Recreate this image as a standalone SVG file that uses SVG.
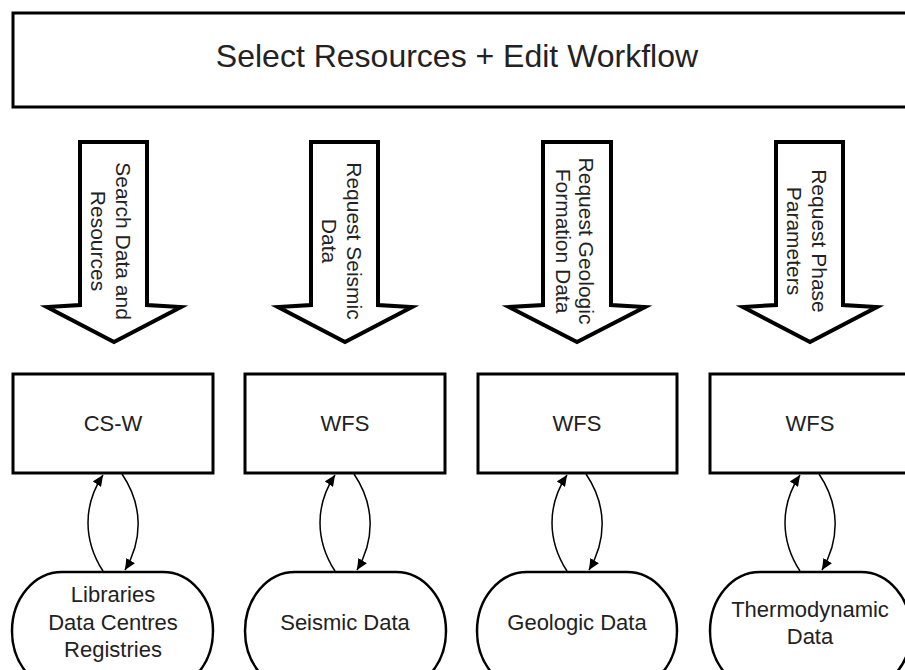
<svg xmlns="http://www.w3.org/2000/svg" width="905" height="670" viewBox="0 0 905 670">
<style>
.bx{fill:#fff;stroke:#000;stroke-width:3}
.ar{fill:#fff;stroke:#000;stroke-width:4;stroke-linejoin:miter}
.st{fill:#fff;stroke:#000;stroke-width:2.5}
.cn{fill:none;stroke:#000;stroke-width:1.5}
text{font-family:"Liberation Sans",Arial,sans-serif;fill:#222;text-anchor:middle}
.t1{font-size:32px}
.t2{font-size:22px}
.t3{font-size:21px}
</style>
<defs>
<marker id="ah" markerUnits="userSpaceOnUse" markerWidth="12" markerHeight="10" refX="11" refY="5" orient="auto">
<path d="M0,0 L11,5 L0,10 Z" fill="#000"/>
</marker>
</defs>
<rect width="905" height="670" fill="#fff"/>
<g id="top">
<rect class="bx" x="13" y="13" width="900" height="94"/>
<text class="t1" x="457" y="67">Select Resources + Edit Workflow</text>
</g>
<g id="arrow1">
<polygon class="ar" points="80,142 147,142 147,305 181,307 114,342 47,307 80,305"/>
<text class="t3" transform="translate(114,241) rotate(90)"><tspan x="0" y="-2">Search Data and</tspan><tspan x="0" y="23">Resources</tspan></text>
</g>
<g id="arrow2">
<polygon class="ar" points="311,142 378,142 378,305 412,307 345,342 278,307 311,305"/>
<text class="t3" transform="translate(345,241) rotate(90)"><tspan x="0" y="-2">Request Seismic</tspan><tspan x="0" y="23">Data</tspan></text>
</g>
<g id="arrow3">
<polygon class="ar" points="543,142 611,142 611,305 645,307 577,342 509,307 543,305"/>
<text class="t3" transform="translate(577,241) rotate(90)"><tspan x="0" y="-2">Request Geologic</tspan><tspan x="0" y="21">Formation Data</tspan></text>
</g>
<g id="arrow4">
<polygon class="ar" points="776,142 843,142 843,305 877,307 810,342 743,307 776,305"/>
<text class="t3" transform="translate(810,241) rotate(90)"><tspan x="0" y="-2">Request Phase</tspan><tspan x="0" y="23">Parameters</tspan></text>
</g>
<g id="csw">
<rect class="bx" x="13" y="374" width="200" height="99"/>
<text class="t2" x="113" y="431">CS-W</text>
</g>
<g id="wfs1">
<rect class="bx" x="245" y="374" width="200" height="99"/>
<text class="t2" x="345" y="431">WFS</text>
</g>
<g id="wfs2">
<rect class="bx" x="478" y="374" width="199" height="99"/>
<text class="t2" x="577" y="431">WFS</text>
</g>
<g id="wfs3">
<rect class="bx" x="710" y="374" width="200" height="99"/>
<text class="t2" x="810" y="431">WFS</text>
</g>
<g id="libraries">
<rect class="st" x="12" y="572" width="201" height="118" rx="50" ry="59"/>
<text class="t2" x="113" y="602">Libraries</text>
<text class="t2" x="113" y="630">Data Centres</text>
<text class="t2" x="113" y="657">Registries</text>
</g>
<g id="seismic">
<rect class="st" x="245" y="572" width="201" height="118" rx="50" ry="59"/>
<text class="t2" x="345" y="630">Seismic Data</text>
</g>
<g id="geologic">
<rect class="st" x="477" y="572" width="200" height="118" rx="50" ry="59"/>
<text class="t2" x="577" y="630">Geologic Data</text>
</g>
<g id="thermo">
<rect class="st" x="710" y="572" width="201" height="118" rx="50" ry="59"/>
<text class="t2" x="810" y="617">Thermodynamic</text>
<text class="t2" x="810" y="644">Data</text>
</g>
<g id="connectors">
<path class="cn" marker-end="url(#ah)" d="M103,571 C83,540 83,505 103,475"/>
<path class="cn" marker-end="url(#ah)" d="M122,474 C143,505 143,540 125,570"/>
<path class="cn" marker-end="url(#ah)" d="M335,571 C315,540 315,505 335,475"/>
<path class="cn" marker-end="url(#ah)" d="M354,474 C375,505 375,540 357,570"/>
<path class="cn" marker-end="url(#ah)" d="M567,571 C547,540 547,505 567,475"/>
<path class="cn" marker-end="url(#ah)" d="M586,474 C607,505 607,540 589,570"/>
<path class="cn" marker-end="url(#ah)" d="M800,571 C780,540 780,505 800,475"/>
<path class="cn" marker-end="url(#ah)" d="M819,474 C840,505 840,540 822,570"/>
</g>
</svg>
